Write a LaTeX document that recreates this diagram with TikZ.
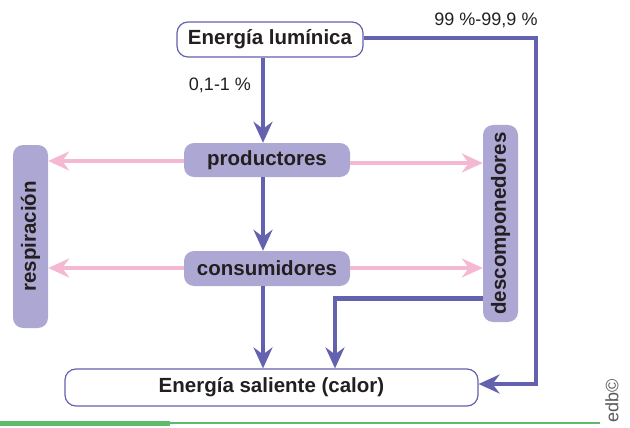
\documentclass[tikz,border=0pt]{standalone}
\usepackage{fontspec}
\setmainfont{Liberation Sans}
\usetikzlibrary{arrows.meta}
\definecolor{flow}{HTML}{6461AE}
\definecolor{lav}{HTML}{ADA8D3}
\definecolor{pinkc}{HTML}{F5B8D3}
\definecolor{txt}{HTML}{231F20}
\definecolor{grn}{HTML}{5DBB6A}
\begin{document}
\begin{tikzpicture}[x=1pt,y=-1pt,
  whitebox/.style={draw=flow,line width=1.2pt,fill=white,rounded corners=11pt,inner sep=0pt,font=\bfseries\fontsize{20.5}{22}\selectfont,text=txt},
  lavbox/.style={fill=lav,rounded corners=10pt,inner sep=0pt,font=\bfseries\fontsize{20.5}{22}\selectfont,text=txt},
  flowline/.style={draw=flow,line width=4.2pt,-{Stealth[length=21pt,width=19pt,inset=7pt]}},
  pinkarrow/.style={draw=pinkc,line width=4.2pt,-{Stealth[length=21pt,width=19pt,inset=7pt]}},
  pct/.style={font=\fontsize{18}{20}\selectfont,text=txt}]
\useasboundingbox (0,0) rectangle (630,428);
% boxes
\node[whitebox,minimum width=186pt,minimum height=35pt] (lum) at (270,39.5) {Energía lumínica};
\node[whitebox,minimum width=413pt,minimum height=37pt] (sal) at (271.5,387.5) {Energía saliente (calor)};
\node[lavbox,minimum width=166pt,minimum height=34pt] (prod) at (267,160) {productores};
\node[lavbox,minimum width=166pt,minimum height=35pt] (cons) at (267,268.5) {consumidores};
\node[lavbox,minimum width=183pt,minimum height=35pt,rotate=90] (resp) at (30.5,236.5) {respiración};
\node[lavbox,minimum width=197pt,minimum height=35pt,rotate=90] (desc) at (500.5,223.5) {descomponedores};
% labels
\node[pct] (p1) at (220,85) {0,1-1 \%};
\node[pct] (p2) at (486,20) {99 \%-99,9 \%};
% coordinates
\coordinate (c1) at (536,38);
\coordinate (c2) at (536,384);
\coordinate (d1) at (335,298.5);
% flows
\draw[flowline] (lum.south -| 263,0) -- (prod.north -| 263,0);
\draw[flowline] (prod.south -| 263,0) -- (cons.north -| 263,0);
\draw[flowline] (cons.south -| 263,0) -- (sal.north -| 263,0);
\draw[flowline] (lum.east |- c1) -- (c1) -- (c2) -- (sal.east |- c2);
\draw[flowline] (desc.north |- d1) -- (d1) -- (d1 |- sal.north);
% pink
\draw[pinkarrow] (prod.west |- 0,161) -- (resp.south |- 0,161);
\draw[pinkarrow] (prod.east |- 0,163) -- (desc.north |- 0,163);
\draw[pinkarrow] (cons.west |- 0,268) -- (resp.south |- 0,268);
\draw[pinkarrow] (cons.east |- 0,268) -- (desc.north |- 0,268);
% bottom green line
\fill[grn] (0,421) rectangle (170,426);
\fill[grn] (0,421.5) rectangle (600,423.5);
\node[rotate=90,font=\fontsize{18}{20}\selectfont,text=black!65] (edb) at (612,401) {edb©};
\end{tikzpicture}
\end{document}
